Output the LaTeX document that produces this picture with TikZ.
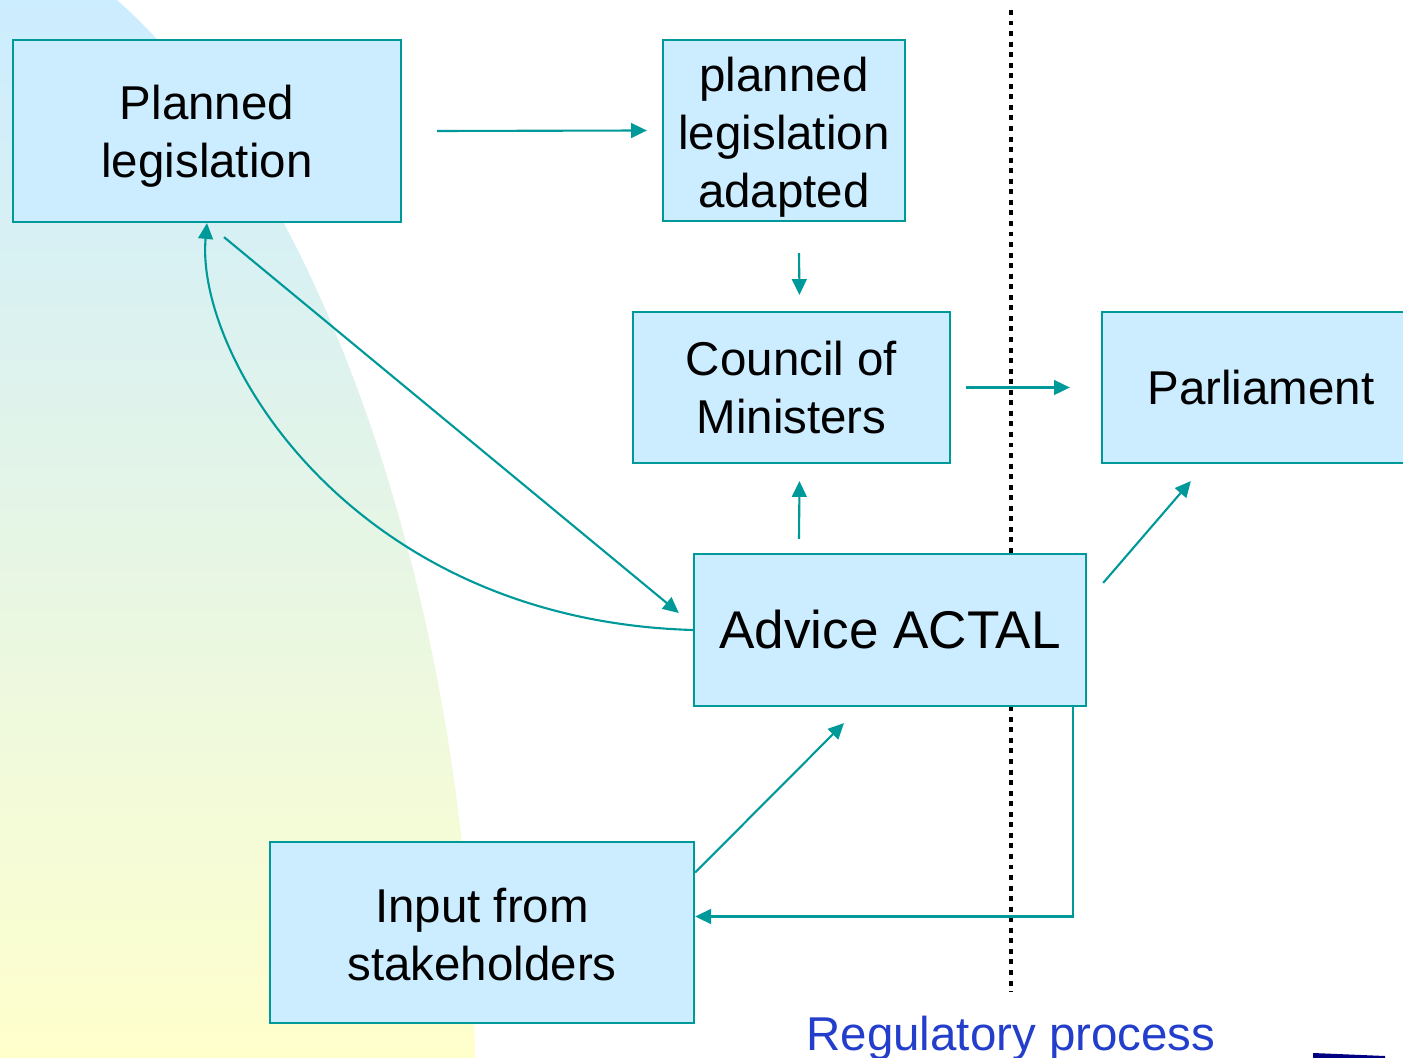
\documentclass[tikz,border=0pt]{standalone}
\usepackage{fontspec}
\setmainfont{Liberation Sans}
\usepackage{tikz}
\usetikzlibrary{arrows.meta}
\definecolor{lineColor}{RGB}{0,153,153}
\definecolor{boxColor}{RGB}{204,236,255}
\definecolor{bgTop}{RGB}{204,236,255}
\definecolor{bgMiddle}{RGB}{228,245,228}
\definecolor{bgBottom}{RGB}{255,255,204}
\definecolor{labelColor}{RGB}{36,62,204}
\definecolor{navyColor}{RGB}{0,0,128}
\tikzstyle{canvas} = [x = 0.01cm, y = -0.01cm]
\tikzstyle{boxStyle} = [draw=lineColor, fill=boxColor, line width=0.6pt, inner sep=0pt, align=center, font=\fontsize{13.5}{16.5}\selectfont]
\tikzstyle{flowLine} = [color=lineColor, line width=0.6pt, -{Triangle[length=4.5pt, width=4.2pt]}]
\tikzstyle{dotLine} = [color=black, line width=1.4pt, dash pattern=on 1.4pt off 1.6pt]
\newcommand{\topStrut}[1]{\rule{0pt}{#1}}
\newcommand{\flowBox}[5]{\node [boxStyle, minimum width=#3, minimum height=#4] (#1) at (#2) {#5};}

\begin{document}
\begin{tikzpicture}[canvas]
  \clip (0,0) rectangle (1403,1058);
  \useasboundingbox (0,0) rectangle (1403,1058);
  \shade [top color=bgTop, middle color=bgMiddle, bottom color=bgBottom]
    (0,0) -- (117,0) .. controls (320,180) and (470,600) .. (475,1058) -- (0,1058) -- cycle;
  \fill [navyColor] (1313,1053) -- (1385,1056) -- (1385,1058) -- (1313,1058) -- cycle;

  \draw [dotLine] (1011,10) -- (1011,992);

  \flowBox{pl}{207,131}{3.88cm}{1.82cm}{\topStrut{13pt}Planned\\legislation}
  \flowBox{pla}{784,130.5}{2.42cm}{1.81cm}{\topStrut{13.5pt}planned\\legislation\\adapted}
  \flowBox{cm}{791.5,387.5}{3.17cm}{1.51cm}{Council of\\Ministers}
  \flowBox{parl}{1261,387.5}{3.18cm}{1.51cm}{Parliament}
  \flowBox{adv}{890,630}{3.92cm}{1.52cm}{\fontsize{15.1}{18}\selectfont Advice ACTAL}
  \flowBox{inp}{482,932.5}{4.24cm}{1.81cm}{\topStrut{10.8pt}Input from\\stakeholders}

  \node [text=labelColor, anchor=base, font=\fontsize{13.5}{16.5}\selectfont] (reg) at (1011,1050) {Regulatory process};

  \draw [flowLine] ([shift={(35,0)}]pl.east) -- ([shift={(-15,0)}]pla.west);
  \draw [flowLine] ([shift={(15,31)}]pla.south) -- ([shift={(8,-16)}]cm.north);
  \draw [flowLine] ([shift={(15,0)}]cm.east) -- ([shift={(-31,0)}]parl.west);
  \draw [flowLine] ([shift={(-91,-14)}]adv.north) -- ([shift={(8,17)}]cm.south);
  \draw [flowLine] ([shift={(16,30)}]adv.north east) -- ([shift={(90,17)}]parl.south west);
  \draw [flowLine] ([shift={(17,14)}]pl.south) -- ([shift={(-14,-17)}]adv.west);
  \draw [flowLine] (adv.west) .. controls (350,620) and (195,355) .. (pl.south);
  \draw [flowLine] ([shift={(-14,0)}]adv.south east) |- ([shift={(0,-16)}]inp.east);
  \draw [flowLine] ([shift={(0,-60)}]inp.east) -- ([shift={(-46,16)}]adv.south);
\end{tikzpicture}
\end{document}
